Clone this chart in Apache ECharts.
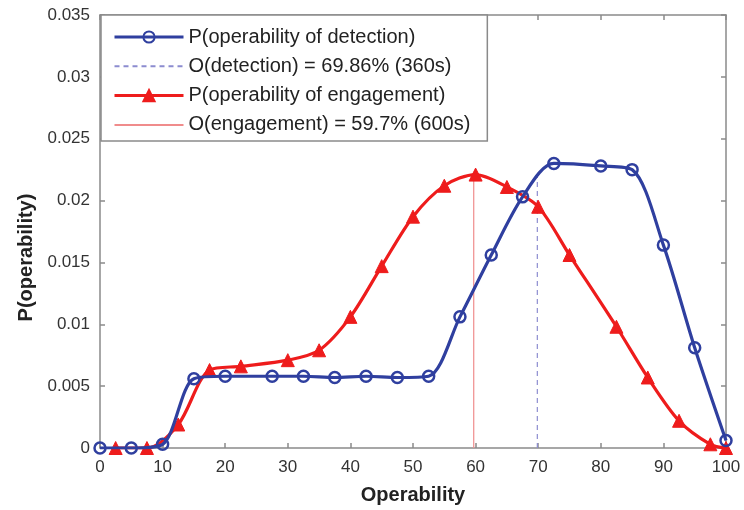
<!DOCTYPE html>
<html>
<head>
<meta charset="utf-8">
<script src="https://cdn.jsdelivr.net/npm/echarts@6/dist/echarts.min.js"></script>
<style>html,body{margin:0;padding:0;background:#fff}#c{width:744px;height:510px}</style>
</head>
<body>
<div id="c"></div>
<script>
var detX = [0, 5, 10, 15, 20, 27.5, 32.5, 37.5, 42.5, 47.5, 52.5, 57.5, 62.5, 67.5, 72.5, 80, 85, 90, 95, 100];
var detY = [0, 0, 0.0003, 0.0056, 0.0058, 0.0058, 0.0058, 0.0057, 0.0058, 0.0057, 0.0058, 0.0106, 0.0156, 0.0203, 0.0230, 0.0228, 0.0225, 0.0164, 0.0081, 0.0006];
var engX = [2.5, 7.5, 12.5, 17.5, 22.5, 30, 35, 40, 45, 50, 55, 60, 65, 70, 75, 82.5, 87.5, 92.5, 97.5, 100];
var engY = [0, 0, 0.0019, 0.0063, 0.0066, 0.0071, 0.0079, 0.0106, 0.0147, 0.0187, 0.0212, 0.0221, 0.0211, 0.0195, 0.0156, 0.0098, 0.0057, 0.0022, 0.0003, 0];
var detOp = [69.86, 0.0219];
var engOp = [59.7, 0.0221];
var names = ['P(operability of detection)', 'O(detection) = 69.86% (360s)', 'P(operability of engagement)', 'O(engagement) = 59.7% (600s)'];
var xTicks = [0, 100, 10];
var yTicks = [0, 0.035, 0.005];

function pairs(xs, ys) { return xs.map(function (x, i) { return [x, ys[i]]; }); }

var font = 'Liberation Sans, Arial, sans-serif';
var axisCol = '#8a8a8a';
var blue = '#2f3f9f', red = '#ee1c1c';
var chart = echarts.init(document.getElementById('c'));
var baseAxis = {
  axisLine: { show: true, onZero: false, lineStyle: { color: axisCol, width: 1.5 } },
  axisTick: { show: true, inside: true, length: 5, lineStyle: { color: axisCol, width: 1.5 } },
  splitLine: { show: false }
};
chart.setOption({
  animation: false,
  backgroundColor: '#fff',
  grid: { left: 100, right: 18, top: 15, bottom: 61 },
  legend: {
    orient: 'vertical', left: 101, top: 15,
    padding: [12, 17, 6, 12], itemGap: 9.3, itemWidth: 69, itemHeight: 14,
    backgroundColor: '#fff', borderColor: '#8a8a8a', borderWidth: 1.5,
    textStyle: { fontFamily: font, fontSize: 20, lineHeight: 20, color: '#222' },
    data: [
      { name: names[0], lineStyle: { width: 3 } },
      { name: names[1], itemStyle: { opacity: 0 } },
      { name: names[2], lineStyle: { width: 3 } },
      { name: names[3], itemStyle: { opacity: 0 } }
    ]
  },
  xAxis: [
    Object.assign({}, baseAxis, {
      type: 'value', min: xTicks[0], max: xTicks[1], interval: xTicks[2],
      name: 'Operability', nameLocation: 'middle', nameGap: 37,
      nameTextStyle: { fontFamily: font, fontSize: 20, fontWeight: 'bold', color: '#222' },
      axisLabel: { fontFamily: font, fontSize: 17, color: '#333', margin: 11 }
    }),
    Object.assign({}, baseAxis, {
      type: 'value', position: 'top', min: xTicks[0], max: xTicks[1], interval: xTicks[2],
      axisLabel: { show: false }
    })
  ],
  yAxis: [
    Object.assign({}, baseAxis, {
      type: 'value', min: yTicks[0], max: yTicks[1], interval: yTicks[2],
      name: 'P(operability)', nameLocation: 'middle', nameGap: 64, nameRotate: 90,
      nameTextStyle: { fontFamily: font, fontSize: 20, fontWeight: 'bold', color: '#222', padding: [0, 52, 0, 0] },
      axisLabel: { fontFamily: font, fontSize: 17, color: '#333', margin: 10 }
    }),
    Object.assign({}, baseAxis, {
      type: 'value', position: 'right', min: yTicks[0], max: yTicks[1], interval: yTicks[2],
      axisLabel: { show: false }
    })
  ],
  series: [
    {
      name: names[1], type: 'line', symbol: 'none', z: 1,
      lineStyle: { color: '#8c8cd0', width: 1.2, type: [5, 4] }, itemStyle: { color: '#8c8cd0' },
      data: [[detOp[0], 0], [detOp[0], detOp[1]]]
    },
    {
      name: names[3], type: 'line', symbol: 'none', z: 1,
      lineStyle: { color: '#f08c8c', width: 1.2 }, itemStyle: { color: '#f08c8c' },
      data: [[engOp[0], 0], [engOp[0], engOp[1]]]
    },
    {
      name: names[2], type: 'line', smooth: 0.3, z: 3,
      symbol: 'triangle', symbolSize: 13,
      lineStyle: { color: red, width: 3.2 },
      itemStyle: { color: red, borderColor: red, borderWidth: 1 },
      data: pairs(engX, engY)
    },
    {
      name: names[0], type: 'line', smooth: 0.3, z: 4,
      symbol: 'circle', symbolSize: 11,
      lineStyle: { color: blue, width: 3.2 },
      itemStyle: { color: 'rgba(255,255,255,0)', borderColor: blue, borderWidth: 2.5 },
      data: pairs(detX, detY)
    }
  ]
});
</script>
</body>
</html>
